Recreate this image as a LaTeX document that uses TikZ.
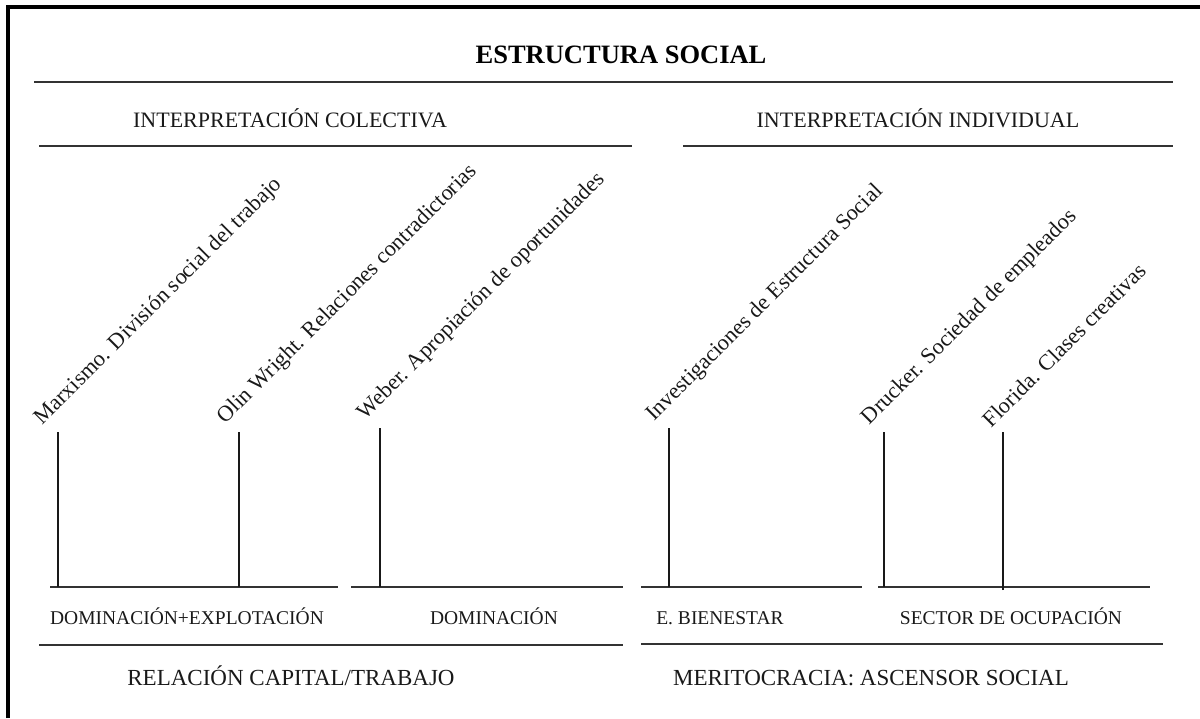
\documentclass[tikz,border=0pt]{standalone}
\usepackage{fontspec}
\setmainfont{Liberation Serif}
\begin{document}
\begin{tikzpicture}[x=1pt,y=-1pt,
  rule/.style={line width=1.3pt, draw=black!80},
  stem/.style={line width=1.3pt, draw=black!90},
  frame/.style={line width=4pt, draw=black},
  titlelab/.style={font=\fontsize{26.5}{30}\selectfont\bfseries, inner sep=0, anchor=base, text=black},
  headlab/.style={font=\fontsize{22}{26}\selectfont, inner sep=0, anchor=base, text=black!90},
  footlab/.style={font=\fontsize{23}{27}\selectfont, inner sep=0, anchor=base, text=black!90},
  smalllab/.style={font=\fontsize{19.5}{23}\selectfont, inner sep=0, anchor=base, text=black!90},
  slantlab/.style={font=\fontsize{22.3}{26}\selectfont, inner sep=0, anchor=south west, rotate=45, text=black!90}]
\useasboundingbox (0,0) rectangle (1200,718);

% frame (only top and left edges visible)
\draw[frame] (8,718) -- (8,7) -- (1200,7);

% title and headers
\node[titlelab] (title) at (621,63) {ESTRUCTURA SOCIAL};
\draw[rule] (34,82) -- (1173,82);
\node[headlab] (colect) at (290,127) {INTERPRETACIÓN COLECTIVA};
\node[headlab] (indiv) at (918,127) {INTERPRETACIÓN INDIVIDUAL};
\draw[rule] (39,146) -- (632,146);
\draw[rule] (683,146) -- (1173,146);

% base lines
\draw[rule] (50,587) -- (338,587);
\draw[rule] (351,587) -- (623,587);
\draw[rule] (641,587) -- (862,587);
\draw[rule] (878,587) -- (1150,587);

% stems: bottom and top coordinates
\coordinate (b1) at (58,587);   \coordinate (t1) at (58,432);
\coordinate (b2) at (239,587);  \coordinate (t2) at (239,432);
\coordinate (b3) at (380,587);  \coordinate (t3) at (380,428);
\coordinate (b4) at (669,587);  \coordinate (t4) at (669,428);
\coordinate (b5) at (884,587);  \coordinate (t5) at (884,432);
\coordinate (b6) at (1003,590); \coordinate (t6) at (1003,432);

\node[slantlab] (marx) at (46,429) {Marxismo. División social del trabajo};
\node[slantlab] (olin) at (229,428) {Olin Wright. Relaciones contradictorias};
\node[slantlab] (weber) at (369,424) {Weber. Apropiación de oportunidades};
\node[slantlab] (inves) at (658,425) {Investigaciones de Estructura Social};
\node[slantlab] (druck) at (873,429) {Drucker. Sociedad de empleados};
\node[slantlab] (flori) at (992,429) {Florida. Clases creativas};

\draw[stem] (b1) -- (t1);
\draw[stem] (b2) -- (t2);
\draw[stem] (b3) -- (t3);
\draw[stem] (b4) -- (t4);
\draw[stem] (b5) -- (t5);
\draw[stem] (b6) -- (t6);

% lower labels
\node[smalllab] (domexp) at (187,624) {DOMINACIÓN+EXPLOTACIÓN};
\node[smalllab] (dom) at (494,624) {DOMINACIÓN};
\node[smalllab] (bien) at (720,624) {E. BIENESTAR};
\node[smalllab] (sector) at (1011,624) {SECTOR DE OCUPACIÓN};

\draw[rule] (39,645) -- (623,645);
\draw[rule] (641,644) -- (1163,644);

\node[footlab] (capital) at (291,685) {RELACIÓN CAPITAL/TRABAJO};
\node[footlab] (merito) at (871,685) {MERITOCRACIA: ASCENSOR SOCIAL};
\end{tikzpicture}
\end{document}
